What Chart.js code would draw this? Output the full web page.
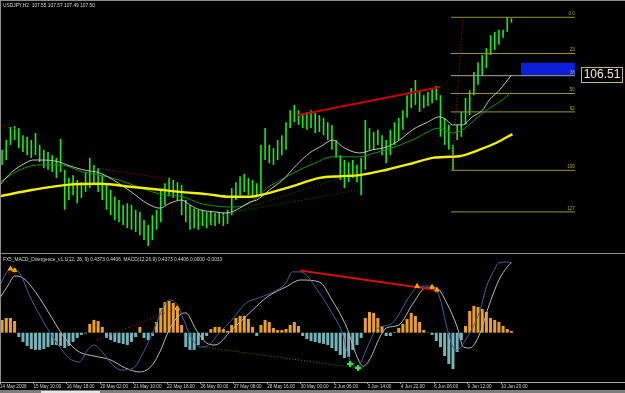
<!DOCTYPE html>
<html>
<head>
<meta charset="utf-8">
<script src="https://cdn.jsdelivr.net/npm/chart.js@4.4.1/dist/chart.umd.min.js"></script>
<style>
  html, body { margin: 0; padding: 0; background: #000; }
  #wrap { position: relative; width: 625px; height: 393px; background: #000; overflow: hidden; }
  canvas { position: absolute; left: 0; }
  #mainChart { top: 0; }
  #macdChart { top: 254px; }
  .txt { position: absolute; font-family: 'Liberation Sans', Arial, sans-serif; font-size: 5.5px; color: #d8d8d8; white-space: nowrap; line-height: 1; transform-origin: left top; }
  #title { left: 3px; top: 3px; transform: scaleX(0.88); }
  #macdTitle { left: 3px; top: 257px; transform: scaleX(0.87); }
  .rule { position: absolute; background: #8c8c8c; }
  #bottomBar { position: absolute; left: 0; top: 390px; width: 625px; height: 3px; background: #7c7c7c; }
  #tab { position: absolute; left: 41px; top: 391px; width: 59px; height: 2px; background: #e4e4e4; }
</style>
</head>
<body>
<div id="wrap">
  <canvas id="mainChart" width="625" height="253"></canvas>
  <canvas id="macdChart" width="625" height="136"></canvas>
  <div class="rule" style="left:0;top:0;width:625px;height:1px;"></div>
  <div class="rule" style="left:0;top:0;width:1px;height:382px;"></div>
  <div class="rule" style="left:0;top:253px;width:625px;height:1px;"></div>
  <div class="txt" id="title">USDJPY,H2&nbsp; 107.55 107.57 107.49 107.50</div>
  <div class="txt" id="macdTitle">FX5_MACD_Divergence_v1.1(12, 26, 9) 0.4373 0.4406&nbsp; MACD(12,26,9) 0.4373 0.4406 0.0000 -0.0033</div>
  <div id="bottomBar"></div>
  <div id="tab"></div>
</div>
<script>
// time axis (bar numbers, H2 bars)
const tickBars = [0, 16, 32, 48, 64, 80, 96, 112, 128, 144, 160, 176, 192, 208, 224, 240];
const tickLabels = ['14 May 2008', '15 May 10:00', '16 May 18:00', '20 May 02:00', '21 May 10:00', '22 May 18:00',
    '26 May 00:00', '27 May 08:00', '28 May 16:00', '30 May 00:00', '2 Jun 06:00', '3 Jun 14:00',
    '4 Jun 22:00', '6 Jun 06:00', '9 Jun 12:00', '10 Jun 20:00'];

// price candles, one every second bar
const highs = [
    105.14, 105.32, 105.56, 105.58, 105.54, 105.41, 105.38, 105.32, 105.45, 105.23,
    105.14, 105.10, 105.04, 104.99, 105.34, 104.77, 104.62, 104.67, 104.58, 104.54,
    104.73, 104.99, 104.86, 104.80, 104.67, 104.49, 104.40, 104.27, 104.21, 104.12,
    104.15, 104.12, 104.03, 103.99, 103.84, 103.75, 103.93, 104.03, 104.40, 104.52,
    104.62, 104.58, 104.54, 104.49, 104.21, 104.12, 104.06, 104.03, 104.03, 103.99,
    103.99, 103.97, 103.99, 103.97, 104.03, 104.43, 104.54, 104.65, 104.69, 104.62,
    104.58, 104.52, 105.23, 105.54, 105.23, 105.17, 105.32, 105.41, 105.65, 105.87,
    105.97, 105.87, 105.82, 105.84, 105.87, 105.82, 105.78, 105.73, 105.65, 105.60,
    105.32, 105.04, 104.95, 104.91, 104.95, 104.86, 104.99, 105.69, 105.54, 105.47,
    105.51, 105.41, 105.32, 105.51, 105.65, 105.73, 105.87, 106.15, 106.28, 106.43,
    106.21, 106.15, 106.21, 106.28, 106.32, 106.15, 105.73, 105.60, 105.23, 105.60,
    105.84, 106.10, 106.24, 106.58, 106.76, 106.89, 107.02, 107.26, 107.32, 107.36,
    107.36, 107.59, 107.57
];
const lows = [
    104.86, 104.95, 105.23, 105.32, 105.17, 105.10, 105.04, 104.99, 105.04, 104.91,
    104.80, 104.77, 104.73, 104.62, 104.73, 104.03, 104.21, 104.30, 104.15, 104.25,
    104.36, 104.43, 104.49, 104.36, 104.21, 104.03, 103.93, 103.84, 103.80, 103.75,
    103.69, 103.66, 103.62, 103.56, 103.47, 103.36, 103.47, 103.66, 103.80, 104.12,
    104.28, 104.25, 104.21, 103.93, 103.80, 103.66, 103.69, 103.66, 103.73, 103.69,
    103.75, 103.73, 103.77, 103.73, 103.77, 103.93, 104.21, 104.30, 104.36, 104.30,
    104.27, 104.28, 104.30, 104.95, 104.89, 104.86, 104.95, 105.04, 105.14, 105.54,
    105.65, 105.60, 105.54, 105.51, 105.54, 105.45, 105.47, 105.41, 105.32, 105.14,
    104.99, 104.58, 104.43, 104.54, 104.62, 104.54, 104.30, 104.77, 105.14, 105.14,
    105.23, 105.04, 104.89, 105.04, 105.23, 105.32, 105.51, 105.73, 105.91, 105.97,
    105.84, 105.91, 105.95, 106.00, 106.06, 105.38, 105.23, 105.14, 104.77, 105.32,
    105.38, 105.60, 105.78, 106.15, 106.34, 106.52, 106.65, 106.89, 106.99, 107.08,
    107.21, 107.32, 107.49
];

// moving averages [bar, price]
const maGray = [[0,104.49],[5.7,104.73],[12,104.89],[15.8,104.95],[21.5,104.95],[28.7,104.91],[32,104.86],[39.7,104.77],
    [47.8,104.71],[56,104.54],[63.6,104.34],[70.3,104.15],[76.6,104.06],[81.3,104.15],[87.1,104.21],[90.9,104.12],
    [95.7,104.03],[102.9,103.99],[108.6,103.97],[114.8,104.06],[119.6,104.17],[123,104.21],[129.2,104.40],[135.4,104.58],
    [142.1,104.86],[148.3,105.08],[154.1,105.21],[159.3,105.32],[165.1,105.17],[172.2,105.08],[178.5,105.14],[185.2,105.19],
    [191.4,105.32],[197.6,105.51],[204.8,105.65],[210.5,105.75],[213.9,105.69],[216.7,105.60],[221.5,105.60],[226.3,105.75],
    [231.1,105.87],[234.4,106.06],[239.2,106.24],[245,106.52]];
const maGreen = [[0,104.54],[9.6,104.77],[19.1,104.86],[28.7,104.86],[39.7,104.73],[52.6,104.63],[63.6,104.49],[76.6,104.32],
    [87.6,104.27],[95.7,104.15],[102.9,104.10],[110,104.08],[119.6,104.15],[127.8,104.43],[136.4,104.62],[143.5,104.77],
    [150.7,104.89],[159.3,105.01],[167.5,105.01],[172.2,105.01],[179.4,105.08],[185.2,105.14],[197.6,105.32],[210.5,105.54],
    [216.7,105.45],[221.5,105.51],[227.3,105.69],[233,105.87],[240.7,106.06],[245,106.21]];
const maYellow = [[0,104.28],[15.8,104.40],[32,104.49],[47.8,104.51],[63.6,104.45],[76.6,104.40],[86.1,104.36],[99,104.32],
    [110,104.27],[119.6,104.27],[124.4,104.30],[138.8,104.45],[153.1,104.62],[162.7,104.65],[172.2,104.67],[185.2,104.77],
    [197.6,104.89],[207.2,104.99],[215.3,105.01],[220.1,105.02],[229.7,105.14],[237.8,105.27],[245.5,105.43]];

// divergence / fibo objects on the price window
const priceDivSolid = [[142.3,105.78],[210.8,106.30]];
const priceDivDotted = [[[1,105.58],[7.7,105.52]], [[46.5,104.80],[83.8,104.58]]];
const priceDivGreen = [[[95.8,103.78],[162.9,104.62]], [[110.2,103.97],[172.5,104.40]]];
const fibTrend = [[216.5,104.80],[221.8,107.58]];
const fibLevels = [107.59, 106.92, 106.51, 106.18, 105.84, 104.76, 103.99];
const fibNames = ['0.0', '23', '38', '50', '62', '100', '127'];
const fibStart = 216, fibEnd = 275.4;
const boxBars = [249.6, 275.4], boxPrices = [106.75, 106.52];
const lastLabel = 106.51, lastLabelBar = 278.3;

// MACD window, one histogram bar every second bar
const hist = [
    0.080, 0.092, 0.092, 0.073, -0.027, -0.058, -0.083, -0.102, -0.108, -0.108,
    -0.102, -0.090, -0.077, -0.077, -0.083, -0.096, -0.083, -0.058, -0.033, -0.014,
    -0.005, 0.055, 0.080, 0.073, 0.036, -0.033, -0.046, -0.058, -0.065, -0.071,
    -0.077, -0.058, -0.027, 0.036, -0.033, -0.046, -0.021, 0.067, 0.155, 0.192,
    0.199, 0.186, 0.155, 0.048, -0.090, -0.108, -0.108, -0.077, -0.046, -0.021,
    0.023, 0.036, 0.036, 0.023, 0.011, 0.048, 0.092, 0.105, 0.105, 0.086,
    0.036, -0.021, 0.048, 0.080, 0.067, 0.030, 0.017, 0.017, 0.023, 0.048,
    0.067, 0.042, -0.021, -0.040, -0.052, -0.058, -0.065, -0.071, -0.077, -0.096,
    -0.115, -0.140, -0.159, -0.152, -0.108, -0.077, -0.033, 0.092, 0.130, 0.124,
    0.092, 0.042, -0.021, -0.021, 0.004, 0.030, 0.055, 0.086, 0.124, 0.105,
    0.067, 0.017, -0.002, -0.014, -0.052, -0.090, -0.146, -0.196, -0.228, -0.121,
    -0.046, 0.042, 0.136, 0.168, 0.161, 0.149, 0.130, 0.092, 0.080, 0.067,
    0.042, 0.023, 0.011
];
const macdLine = [[0,0.299],[4,0.393],[6,0.406],[10,0.362],[14,0.236],[19,0.111],[24,-0.002],[29,-0.096],[33,-0.159],
    [38,-0.184],[42,-0.108],[45,-0.077],[49,-0.121],[54,-0.202],[58,-0.234],[64,-0.221],[68,-0.140],[72,-0.033],[75,0.061],
    [78,0.155],[81,0.205],[85,0.174],[88,0.080],[91,-0.014],[96,-0.090],[100,-0.077],[105,-0.002],[111,0.080],[118,0.186],
    [124,0.218],[131,0.255],[137,0.312],[140,0.381],[144,0.381],[153,0.249],[159,0.124],[164,-0.002],[167,-0.152],
    [171,-0.215],[176,-0.090],[180,0.017],[188,0.061],[196,0.224],[200,0.287],[207,0.293],[211,0.205],[214,0.036],
    [217,-0.090],[219,-0.108],[223,-0.046],[230,0.142],[233,0.287],[236,0.374],[239,0.437],[243,0.443],[245,0.437]];
const signalLine = [[0,0.218],[4,0.299],[7,0.355],[11,0.343],[17,0.255],[24,0.111],[31,-0.033],[38,-0.121],[45,-0.146],
    [53,-0.171],[60,-0.221],[67,-0.246],[73,-0.202],[77,-0.108],[81,0.017],[86,0.111],[89,0.124],[94,0.017],[99,-0.065],
    [103,-0.077],[111,0.017],[121,0.142],[128,0.224],[137,0.287],[144,0.330],[153,0.318],[159,0.205],[166,0.036],
    [171,-0.150],[174,-0.210],[177,-0.170],[182,-0.027],[185,0.029],[191,0.048],[198,0.186],[204,0.280],[209,0.280],
    [214,0.186],[219,0.036],[222,-0.090],[225,-0.096],[230,-0.002],[234,0.161],[239,0.330],[243,0.412],[245,0.441]];
const macdDivSolid = [[143.7,0.389],[209.2,0.268]];
const macdDivDotted = [[[0,0.355],[7.2,0.393]], [[46.5,-0.046],[84.8,0.153]]];
const macdDivGreen = [[97.2,-0.090],[171.5,-0.221]];
const macdArrows = [[5,0.40],[7,0.39],[84.8,0.153],[199.8,0.292],[207,0.286],[209.3,0.268]];
const macdCrosses = [[167.7,-0.196],[171.5,-0.221]];

const candleBars = highs.map((_, i) => 1 + 2 * i);
const xy = arr => arr.map(([x, y]) => ({ x, y }));
const smallFont = "'Liberation Sans', Arial, sans-serif";

const lineSet = (pts, color, width, extra) => Object.assign({
    type: 'line', data: xy(pts), borderColor: color, borderWidth: width,
    pointRadius: 0, cubicInterpolationMode: 'monotone', fill: false
}, extra || {});

// fibo box, labels and the price tag
const fiboPlugin = {
    id: 'fibo',
    beforeDatasetsDraw(chart) {
        const { ctx, scales: { x, y } } = chart;
        const x0 = x.getPixelForValue(boxBars[0]), x1 = x.getPixelForValue(boxBars[1]);
        const y0 = y.getPixelForValue(boxPrices[0]), y1 = y.getPixelForValue(boxPrices[1]);
        ctx.save();
        ctx.fillStyle = '#0c20dc';
        ctx.fillRect(x0, y0, x1 - x0, y1 - y0);
        ctx.restore();
    },
    afterDatasetsDraw(chart) {
        const { ctx, scales: { x, y } } = chart;
        ctx.save();
        ctx.font = '4.6px ' + smallFont;
        ctx.textAlign = 'right';
        ctx.textBaseline = 'bottom';
        fibLevels.forEach((lv, i) => {
            ctx.fillStyle = i === 2 ? '#a8a890' : '#b0aa30';
            ctx.fillText(fibNames[i], x.getPixelForValue(fibEnd), y.getPixelForValue(lv) - 1);
        });
        // price tag
        const left = Math.round(x.getPixelForValue(lastLabelBar)) + 0.5;
        const mid = Math.round(y.getPixelForValue(lastLabel));
        ctx.fillStyle = '#000';
        ctx.fillRect(left, mid - 9, 41, 15);
        ctx.strokeStyle = '#c8b27c';
        ctx.lineWidth = 1;
        ctx.strokeRect(left, mid - 8.5, 41, 15);
        ctx.font = '12px "Liberation Sans", Arial, sans-serif';
        ctx.fillStyle = '#f2ead2';
        ctx.textAlign = 'center';
        ctx.textBaseline = 'middle';
        ctx.fillText(lastLabel.toFixed(2), left + 20.5, mid - 1);
        ctx.restore();
    }
};

const mainDatasets = [
    lineSet(priceDivSolid, '#c80000', 2, { cubicInterpolationMode: 'default' }),
    ...priceDivDotted.map(d => lineSet(d, '#b01010', 1, { borderDash: [1, 2] })),
    ...priceDivGreen.map(d => lineSet(d, '#006a00', 1, { borderDash: [1, 2] })),
    lineSet(fibTrend, '#c01010', 1, { borderDash: [1, 2] }),
    lineSet(maYellow, '#f0f000', 2.4),
    lineSet(maGray, '#c4c4c4', 1),
    lineSet(maGreen, '#0a9a0a', 1),
    ...fibLevels.map((lv, i) => lineSet([[fibStart, lv], [fibEnd, lv]], i === 2 ? '#a8a890' : '#9c9628', 1)),
    {
        type: 'bar',
        data: candleBars.map((b, i) => ({ x: b, y: [lows[i], highs[i]] })),
        backgroundColor: '#14f014',
        maxBarThickness: 1.6,
        grouped: false
    }
];

new Chart(document.getElementById('mainChart'), {
    type: 'bar',
    data: { datasets: mainDatasets },
    options: {
        responsive: false,
        animation: false,
        devicePixelRatio: 1,
        layout: { padding: 0, autoPadding: false },
        plugins: { legend: { display: false }, tooltip: { enabled: false } },
        scales: {
            x: { type: 'linear', min: 0, max: 299.4, display: false, offset: false, grid: { offset: false } },
            y: { type: 'linear', min: 103.23, max: 107.91, display: false }
        }
    },
    plugins: [fiboPlugin]
});

const macdDatasets = [
    lineSet(macdArrows, '#ff8a00', 1, { showLine: false, pointRadius: 2.5, pointStyle: 'triangle', pointBackgroundColor: '#ff8a00', pointBorderColor: '#ffb000' }),
    lineSet(macdCrosses, '#00ff00', 2, { showLine: false, pointRadius: 3, pointStyle: 'cross', pointBorderColor: '#20ff20', pointBorderWidth: 2 }),
    lineSet(macdDivSolid, '#d01010', 2, { cubicInterpolationMode: 'default' }),
    ...macdDivDotted.map(d => lineSet(d, '#c02020', 1, { borderDash: [1, 2] })),
    lineSet(macdDivGreen, '#00a000', 1, { borderDash: [1, 2] }),
    lineSet(macdLine, '#3f62a6', 1),
    lineSet(signalLine, '#b8b8b8', 1),
    {
        type: 'bar',
        data: candleBars.map((b, i) => ({ x: b, y: hist[i] })),
        backgroundColor: ctx => (ctx.raw && ctx.raw.y >= 0) ? '#eaa028' : '#72b4b8',
        maxBarThickness: 3,
        grouped: false
    }
];

new Chart(document.getElementById('macdChart'), {
    type: 'bar',
    data: { datasets: macdDatasets },
    options: {
        responsive: false,
        animation: false,
        devicePixelRatio: 1,
        layout: { padding: 0, autoPadding: false },
        plugins: { legend: { display: false }, tooltip: { enabled: false } },
        scales: {
            x: {
                type: 'linear', min: 0, max: 299.4, offset: false,
                afterBuildTicks: axis => { axis.ticks = tickBars.map(v => ({ value: v })); },
                afterFit: axis => { axis.height = 8; axis.paddingLeft = 0; axis.paddingRight = 0; },
                border: { display: true, color: '#a8a8a8', width: 1 },
                grid: { display: true, drawOnChartArea: false, drawTicks: true, tickLength: 2, color: '#9a9a9a', offset: false },
                ticks: {
                    autoSkip: false, maxRotation: 0, align: 'start', padding: 0,
                    color: '#d0d0d0', font: { family: smallFont, size: 4.6 },
                    callback: v => tickLabels[tickBars.indexOf(v)]
                }
            },
            y: { type: 'linear', min: -0.309, max: 0.493, display: false }
        }
    }
});
</script>
</body>
</html>
